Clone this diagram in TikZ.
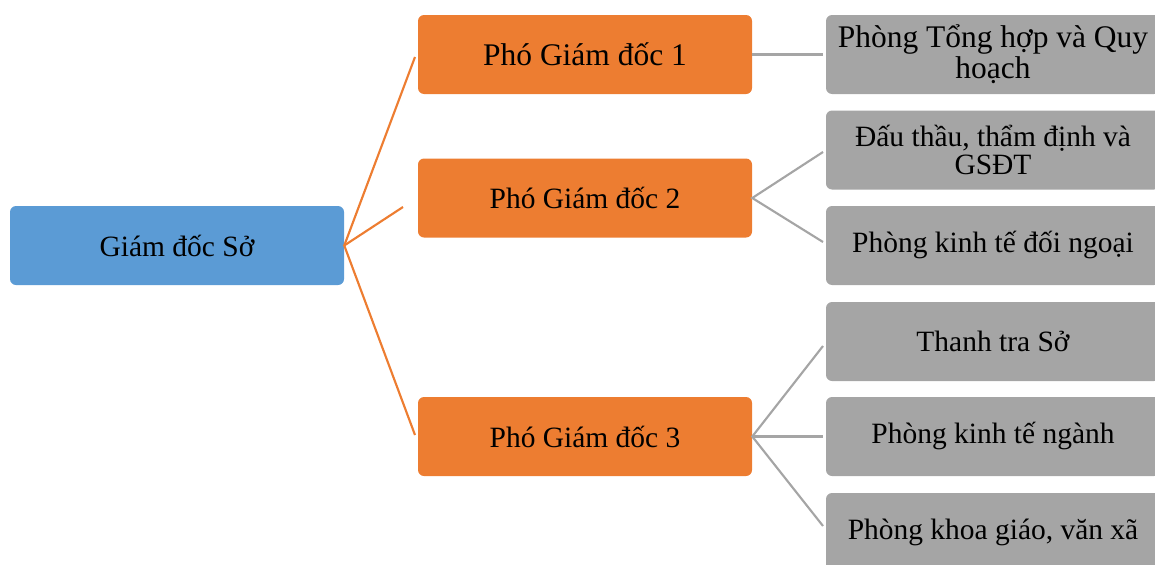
\documentclass[tikz,border=0pt]{standalone}
\usepackage{fontspec}
\setmainfont{Liberation Serif}
\definecolor{cblue}{HTML}{5B9BD5}
\definecolor{corange}{HTML}{ED7D31}
\definecolor{cgray}{HTML}{A5A5A5}
\tikzset{
  box/.style={rectangle, rounded corners=4.5pt, minimum width=250.5pt, minimum height=59.25pt, inner sep=0pt, text=black, align=center, font=\fontsize{22.1}{22.1}\selectfont},
  bluebox/.style={box, fill=cblue},
  orangebox/.style={box, fill=corange},
  graybox/.style={box, fill=cgray},
  olink/.style={draw=corange, line width=1.6pt},
  glink/.style={draw=cgray, line width=1.6pt},
}
\begin{document}
\begin{tikzpicture}[x=0.75pt, y=-0.75pt]
\useasboundingbox (0,0) rectangle (1155,564);
\clip (0,0) rectangle (1155,564);
% boxes
\node[bluebox] (gd) at (177,245.5) {Giám đốc Sở};
\node[orangebox, font=\fontsize{23.6}{23.6}\selectfont] (p1) at (585,54.5) {Phó Giám đốc 1};
\node[orangebox] (p2) at (585,198) {Phó Giám đốc 2};
\node[orangebox] (p3) at (585,436.5) {Phó Giám đốc 3};
\node[graybox, font=\fontsize{23.6}{23.2}\selectfont] (g1) at (993,54.5) {Phòng Tổng hợp và Quy\\hoạch};
\node[graybox, font=\fontsize{22.1}{20.8}\selectfont] (g2) at (993,150) {Đấu thầu, thẩm định và\\GSĐT};
\node[graybox] (g3) at (993,245.5) {Phòng kinh tế đối ngoại};
\node[graybox] (g4) at (993,341.5) {Thanh tra Sở};
\node[graybox] (g5) at (993,436.5) {Phòng kinh tế ngành};
\node[graybox] (g6) at (993,532.5) {Phòng khoa giáo, văn xã};
% connector end points
\coordinate (e1) at (415,57);
\coordinate (e2) at (403,207);
\coordinate (e3) at (415,435);
\coordinate (f1) at (823,54.5);
\coordinate (f2) at (823,152);
\coordinate (f3) at (823,242);
\coordinate (f4) at (823,346);
\coordinate (f5) at (823,436.5);
\coordinate (f6) at (823,526);
% connectors
\draw[olink] (e1) -- (gd.east) -- (e3);
\draw[olink] (gd.east) -- (e2);
\draw[glink] (p1.east) -- (f1);
\draw[glink] (f2) -- (p2.east) -- (f3);
\draw[glink] (f4) -- (p3.east) -- (f6);
\draw[glink] (p3.east) -- (f5);
\end{tikzpicture}
\end{document}
